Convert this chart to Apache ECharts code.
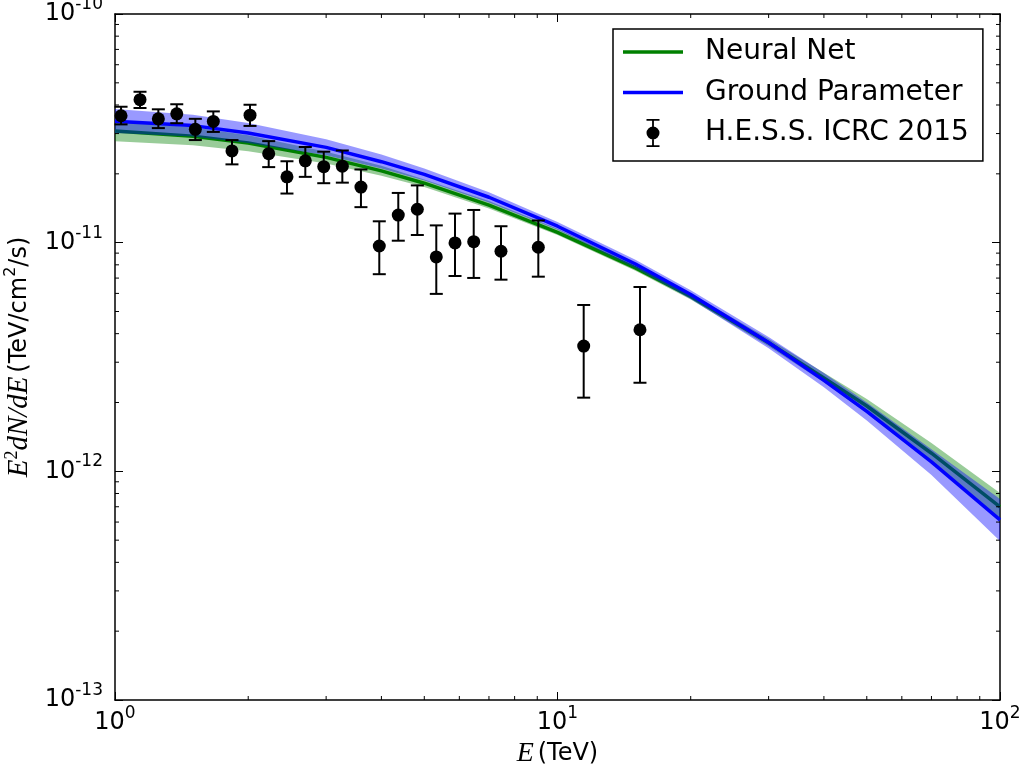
<!DOCTYPE html>
<html>
<head>
<meta charset="utf-8">
<script src="https://cdn.jsdelivr.net/npm/echarts@6/dist/echarts.min.js"></script>
<style>
html,body{margin:0;padding:0;background:#fff;}
#chart{width:1022px;height:773px;}
</style>
</head>
<body>
<div id="chart"></div>
<script>
// H.E.S.S. ICRC 2015 data points (E in TeV, E^2 dN/dE in TeV/cm^2/s)
const hessE = [1.032, 1.139, 1.253, 1.379, 1.519, 1.668, 1.838, 2.019, 2.225, 2.447, 2.692, 2.963, 3.264, 3.596, 3.956, 4.367, 4.822, 5.322, 5.867, 6.466, 7.452, 9.05, 11.46, 15.36];
const hessFlux = [3.59e-11, 4.22e-11, 3.48e-11, 3.66e-11, 3.13e-11, 3.39e-11, 2.52e-11, 3.61e-11, 2.45e-11, 1.94e-11, 2.28e-11, 2.15e-11, 2.16e-11, 1.75e-11, 9.67e-12, 1.32e-11, 1.40e-11, 8.66e-12, 9.97e-12, 1.01e-11, 9.17e-12, 9.55e-12, 3.53e-12, 4.16e-12];
const hessLow = [3.29e-11, 3.88e-11, 3.17e-11, 3.33e-11, 2.81e-11, 3.05e-11, 2.20e-11, 3.24e-11, 2.14e-11, 1.64e-11, 1.94e-11, 1.82e-11, 1.83e-11, 1.43e-11, 7.28e-12, 1.02e-11, 1.08e-11, 5.97e-12, 7.15e-12, 7.01e-12, 6.89e-12, 7.10e-12, 2.10e-12, 2.44e-12];
const hessHigh = [3.93e-11, 4.57e-11, 3.83e-11, 4.03e-11, 3.48e-11, 3.75e-11, 2.81e-11, 4.01e-11, 2.78e-11, 2.27e-11, 2.62e-11, 2.50e-11, 2.53e-11, 2.09e-11, 1.24e-11, 1.65e-11, 1.78e-11, 1.19e-11, 1.34e-11, 1.39e-11, 1.18e-11, 1.25e-11, 5.34e-12, 6.40e-12];

// Model curves sampled at these energies
const modelE = [1, 1.5, 2, 3, 4, 5, 7, 10, 15, 20, 30, 40, 50, 70, 100];
const neuralNet = [3.08e-11, 2.92e-11, 2.73e-11, 2.36e-11, 2.06e-11, 1.82e-11, 1.46e-11, 1.11e-11, 7.76e-12, 5.82e-12, 3.65e-12, 2.56e-12, 1.93e-12, 1.20e-12, 6.99e-13];
const neuralNetLow = [2.78e-11, 2.67e-11, 2.51e-11, 2.22e-11, 1.96e-11, 1.75e-11, 1.41e-11, 1.08e-11, 7.54e-12, 5.64e-12, 3.52e-12, 2.45e-12, 1.80e-12, 1.09e-12, 6.07e-13];
const neuralNetHigh = [3.40e-11, 3.20e-11, 2.95e-11, 2.50e-11, 2.17e-11, 1.89e-11, 1.52e-11, 1.15e-11, 8.01e-12, 6.00e-12, 3.80e-12, 2.70e-12, 2.07e-12, 1.33e-12, 8.04e-13];
const groundParam = [3.40e-11, 3.25e-11, 3.02e-11, 2.61e-11, 2.26e-11, 1.99e-11, 1.58e-11, 1.18e-11, 8.07e-12, 5.93e-12, 3.66e-12, 2.50e-12, 1.83e-12, 1.10e-12, 6.13e-13];
const groundParamLow = [3.02e-11, 2.91e-11, 2.73e-11, 2.41e-11, 2.11e-11, 1.87e-11, 1.50e-11, 1.14e-11, 7.75e-12, 5.67e-12, 3.45e-12, 2.33e-12, 1.67e-12, 9.64e-13, 4.96e-13];
const groundParamHigh = [3.84e-11, 3.63e-11, 3.34e-11, 2.83e-11, 2.43e-11, 2.11e-11, 1.66e-11, 1.23e-11, 8.42e-12, 6.20e-12, 3.87e-12, 2.69e-12, 2.00e-12, 1.25e-12, 7.57e-13];

const seriesNames = ['Neural Net', 'Ground Parameter', 'H.E.S.S. ICRC 2015'];
const xTitle = '{m|E} {t|(TeV)}';
const yTitle = '{m|E}{ms|2}{m|dN/dE} {t|(TeV/cm}{ts|2}{t|/s)}';

const FONT = 'DejaVu Sans';
const chart = echarts.init(document.getElementById('chart'), null, {renderer: 'canvas'});

function powLabel(v) {
  const e = Math.round(Math.log10(v));
  return '{b|10}{s|' + e + '}';
}
const powRich = {
  b: {fontFamily: FONT, fontSize: 24, lineHeight: 36, color: '#000'},
  s: {fontFamily: FONT, fontSize: 17, lineHeight: 17, verticalAlign: 'top', color: '#000'}
};

function bandRenderer(lo, hi) {
  return function (params, api) {
    if (params.dataIndex !== 0) return null;
    const pts = [];
    for (let i = 0; i < modelE.length; i++) pts.push(api.coord([modelE[i], hi[i]]));
    for (let i = modelE.length - 1; i >= 0; i--) pts.push(api.coord([modelE[i], lo[i]]));
    return {type: 'polygon', shape: {points: pts}, style: api.style()};
  };
}

const errIcon = 'path://M0,14h0.01v0.01h-0.01z M59.99,14h0.01v0.01h-0.01z M23.5,0h13v1.8h-13z M23.5,26.2h13v1.8h-13z M29.1,0h1.8v28h-1.8z M23.5,14a6.5,6.5 0 1,1 13,0a6.5,6.5 0 1,1 -13,0z';
const lineIcon = 'path://M0,0h0.01v0.01h-0.01z M0,27.99h0.01v0.01h-0.01z M0,12.25h60v3.5h-60z';

const axisCommon = {
  type: 'log', logBase: 10,
  axisLine: {show: true, onZero: false, lineStyle: {color: '#000', width: 1.5}},
  axisTick: {show: true, inside: true, length: 8, lineStyle: {color: '#000', width: 1}},
  splitLine: {show: false},
  minorTick: {show: false}
};

const option = {
  animation: false,
  backgroundColor: '#fff',
  textStyle: {fontFamily: FONT},
  grid: {left: 115, right: 22, top: 14, bottom: 73, containLabel: false, outerBoundsMode: 'none'},
  legend: {
    orient: 'vertical', left: 613, top: 29,
    padding: [9, 14, 14, 10],
    itemWidth: 60, itemHeight: 28, itemGap: 12.5,
    borderColor: '#000', borderWidth: 1.5, borderRadius: 0,
    backgroundColor: '#fff',
    selectedMode: false,
    textStyle: {fontFamily: FONT, fontSize: 28, color: '#000', padding: [0, 0, 0, 17], lineHeight: 28},
    data: [
      {name: seriesNames[0], icon: lineIcon, itemStyle: {color: '#008000'}},
      {name: seriesNames[1], icon: lineIcon, itemStyle: {color: '#0000ff'}},
      {name: seriesNames[2], icon: errIcon, itemStyle: {color: '#000', opacity: 1}}
    ]
  },
  xAxis: [
    Object.assign({}, axisCommon, {
      position: 'bottom', min: 1, max: 100,
      axisLabel: {show: true, margin: 5, formatter: powLabel, rich: powRich, showMinLabel: true, showMaxLabel: true},
      name: xTitle, nameLocation: 'middle', nameGap: 35,
      nameTextStyle: {
        rich: {
          m: {fontFamily: 'Liberation Serif', fontStyle: 'italic', fontSize: 28, color: '#000'},
          t: {fontFamily: FONT, fontSize: 24, color: '#000'}
        }
      }
    }),
    Object.assign({}, axisCommon, {
      position: 'top', min: 1, max: 100, axisLabel: {show: false}
    })
  ],
  yAxis: [
    Object.assign({}, axisCommon, {
      position: 'left', min: 1e-13, max: 1e-10,
      axisLabel: {show: true, margin: 12, formatter: powLabel, rich: powRich, showMinLabel: true, showMaxLabel: true},
      name: yTitle, nameLocation: 'middle', nameRotate: 90, nameGap: 73,
      nameTextStyle: {
        rich: {
          m: {fontFamily: 'Liberation Serif', fontStyle: 'italic', fontSize: 29, lineHeight: 32, color: '#000'},
          ms: {fontFamily: 'Liberation Serif', fontSize: 18, lineHeight: 18, verticalAlign: 'top', color: '#000'},
          t: {fontFamily: FONT, fontSize: 24, lineHeight: 32, color: '#000'},
          ts: {fontFamily: FONT, fontSize: 16, lineHeight: 16, verticalAlign: 'top', color: '#000'}
        }
      }
    }),
    Object.assign({}, axisCommon, {
      position: 'right', min: 1e-13, max: 1e-10, axisLabel: {show: false}
    })
  ],
  series: [
    {
      name: 'Neural Net band', type: 'custom', z: 1, clip: true,
      xAxisIndex: 0, yAxisIndex: 0,
      renderItem: bandRenderer(neuralNetLow, neuralNetHigh),
      itemStyle: {color: 'rgba(0,128,0,0.4)'},
      encode: {x: 0, y: [1, 2]},
      data: modelE.map((e, i) => [e, neuralNetLow[i], neuralNetHigh[i]]),
      silent: true
    },
    {
      name: seriesNames[0], type: 'line', z: 2,
      xAxisIndex: 0, yAxisIndex: 0,
      showSymbol: false, symbol: 'none', smooth: false,
      lineStyle: {color: '#008000', width: 3.5},
      itemStyle: {color: '#008000'},
      data: modelE.map((e, i) => [e, neuralNet[i]])
    },
    {
      name: 'Ground Parameter band', type: 'custom', z: 3, clip: true,
      xAxisIndex: 0, yAxisIndex: 0,
      renderItem: bandRenderer(groundParamLow, groundParamHigh),
      itemStyle: {color: 'rgba(0,0,255,0.4)'},
      encode: {x: 0, y: [1, 2]},
      data: modelE.map((e, i) => [e, groundParamLow[i], groundParamHigh[i]]),
      silent: true
    },
    {
      name: seriesNames[1], type: 'line', z: 4,
      xAxisIndex: 0, yAxisIndex: 0,
      showSymbol: false, symbol: 'none', smooth: false,
      lineStyle: {color: '#0000ff', width: 3.5},
      itemStyle: {color: '#0000ff'},
      data: modelE.map((e, i) => [e, groundParam[i]])
    },
    {
      name: 'H.E.S.S. error bars', type: 'custom', z: 5,
      xAxisIndex: 0, yAxisIndex: 0,
      renderItem: function (params, api) {
        const p1 = api.coord([api.value(0), api.value(1)]);
        const p2 = api.coord([api.value(0), api.value(2)]);
        const w = 6.5;
        const st = {stroke: '#000', lineWidth: 2};
        return {type: 'group', children: [
          {type: 'line', shape: {x1: p1[0], y1: p1[1], x2: p2[0], y2: p2[1]}, style: st},
          {type: 'line', shape: {x1: p1[0] - w, y1: p1[1], x2: p1[0] + w, y2: p1[1]}, style: st},
          {type: 'line', shape: {x1: p2[0] - w, y1: p2[1], x2: p2[0] + w, y2: p2[1]}, style: st}
        ]};
      },
      encode: {x: 0, y: [1, 2]},
      data: hessE.map((e, i) => [e, hessLow[i], hessHigh[i]]),
      silent: true
    },
    {
      name: seriesNames[2], type: 'scatter', z: 6,
      xAxisIndex: 0, yAxisIndex: 0,
      symbol: 'circle', symbolSize: 13,
      itemStyle: {color: '#000', opacity: 1},
      data: hessE.map((e, i) => [e, hessFlux[i]])
    }
  ]
};

chart.setOption(option);

// Log-scale minor ticks (2..9 x 10^k) positioned via the chart's own axis scales
function addMinorTicks() {
  const g = [];
  const st = {stroke: '#000', lineWidth: 1};
  const yTop = chart.convertToPixel({yAxisIndex: 0}, 1e-10);
  const yBot = chart.convertToPixel({yAxisIndex: 0}, 1e-13);
  const xL = chart.convertToPixel({xAxisIndex: 0}, 1);
  const xR = chart.convertToPixel({xAxisIndex: 0}, 100);
  const L = 4;
  for (let k = 0; k < 2; k++) {
    for (let m = 2; m <= 9; m++) {
      const px = chart.convertToPixel({xAxisIndex: 0}, m * Math.pow(10, k));
      g.push({type: 'line', z: 100, silent: true, shape: {x1: px, y1: yBot, x2: px, y2: yBot - L}, style: st});
      g.push({type: 'line', z: 100, silent: true, shape: {x1: px, y1: yTop, x2: px, y2: yTop + L}, style: st});
    }
  }
  for (let k = -13; k < -10; k++) {
    for (let m = 2; m <= 9; m++) {
      const py = chart.convertToPixel({yAxisIndex: 0}, m * Math.pow(10, k));
      g.push({type: 'line', z: 100, silent: true, shape: {x1: xL, y1: py, x2: xL + L, y2: py}, style: st});
      g.push({type: 'line', z: 100, silent: true, shape: {x1: xR, y1: py, x2: xR - L, y2: py}, style: st});
    }
  }
  chart.setOption({graphic: g});
}
addMinorTicks();
</script>
</body>
</html>
